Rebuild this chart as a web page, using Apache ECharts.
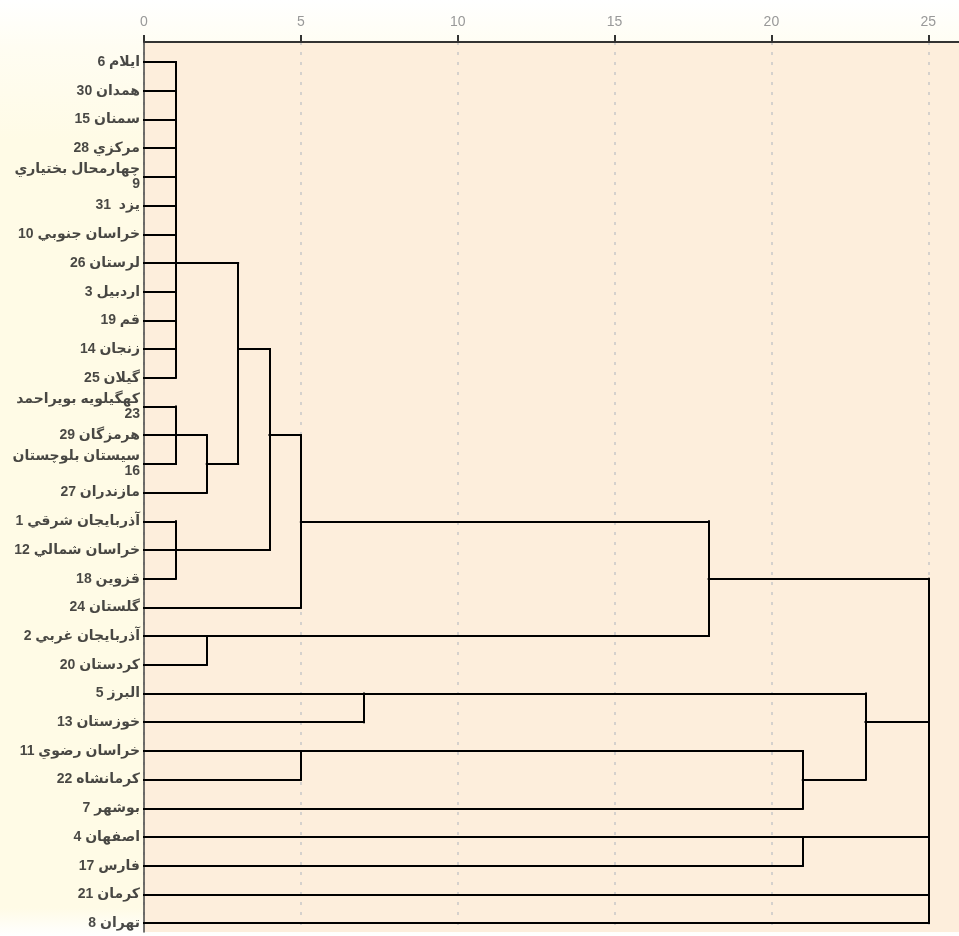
<!DOCTYPE html>
<html><head><meta charset="utf-8">
<script src="https://cdn.jsdelivr.net/npm/echarts@6/dist/echarts.min.js"></script>
<style>html,body{margin:0;padding:0;background:#fff;overflow:hidden}#c{width:1000px;height:936px}</style>
</head><body><div id="c"></div>
<script>
// Leaf labels, top to bottom (row 1..31)
const provinces = ['ايلام 6','همدان 30','سمنان 15','مرکزي 28','چهارمحال بختياري\n9','يزد  31','خراسان جنوبي 10','لرستان 26','اردبيل 3','قم 19','زنجان 14','گيلان 25','کهگيلويه بويراحمد\n23','هرمزگان 29','سيستان بلوچستان\n16','مازندران 27','آذربايجان شرقي 1','خراسان شمالي 12','قزوين 18','گلستان 24','آذربايجان غربي 2','کردستان 20','البرز 5','خوزستان 13','خراسان رضوي 11','کرمانشاه 22','بوشهر 7','اصفهان 4','فارس 17','کرمان 21','تهران 8'];

// Clusters (children are leaf rows (numbers) or cluster ids)
const clusterIds = ['A','B','B16','AB','C','ABC','ABC24','D','E','F','G','G7','FG','H','ROOT'];
const clusterChildren = [
  [1,2,3,4,5,6,7,8,9,10,11,12],
  [13,14,15],
  ['B',16],
  ['A','B16'],
  [17,18,19],
  ['AB','C'],
  ['ABC',20],
  [21,22],
  ['ABC24','D'],
  [23,24],
  [25,26],
  ['G',27],
  ['F','G7'],
  [28,29],
  ['E','FG','H',30,31]
];
// rescaled distance at which each cluster combines
const clusterHeights = [1,1,2,3,1,4,5,2,18,7,5,21,23,21,25];
// row at which each cluster's joining branch leaves
const clusterJoinRows = [8,14,15,11,18,14,17,21,19,23,25,26,24,28,null];

// x axis tick labels
const xTicks = [0,5,10,15,20,25];

function rowOf(c){ return typeof c === 'number' ? c : clusterJoinRows[clusterIds.indexOf(c)]; }
function heightOf(c){ return typeof c === 'number' ? 0 : clusterHeights[clusterIds.indexOf(c)]; }

const segs = [];
clusterChildren.forEach((ch, ci) => {
  const h = clusterHeights[ci];
  const rows = ch.map(rowOf);
  ch.forEach(c => segs.push({coords: [[heightOf(c), rowOf(c)], [h, rowOf(c)]]}));
  segs.push({coords: [[h, Math.min(...rows)], [h, Math.max(...rows)]]});
});

const chart = echarts.init(document.getElementById('c'));
chart.setOption({
  animation: false,
  backgroundColor: {type:'linear', x:0, y:0, x2:0, y2:1, colorStops:[
    {offset:0, color:'#ffffff'}, {offset:0.05, color:'#fffdf2'}, {offset:0.15, color:'#fffbe6'},
    {offset:0.97, color:'#fffbe6'}, {offset:1, color:'#ffffff'}]},
  grid: {left:144, right:9, top:42, bottom:4, show:true, backgroundColor:'#fdeedc', borderWidth:0},
  graphic: [{type:'rect', z:-1, silent:true, shape:{x:931, y:43, width:70, height:889},
    style:{fill:{type:'linear', x:0, y:0, x2:1, y2:0, colorStops:[{offset:0, color:'#fdeedc'},{offset:0.4, color:'#fef2e6'},{offset:1, color:'#fef2e6'}]}}}],
  xAxis: {
    type:'value', position:'top', min:0, max:27, interval:5,
    axisLine:{show:true, lineStyle:{color:'#333', width:2}},
    axisTick:{show:true, length:7, lineStyle:{color:'#333', width:2}},
    axisLabel:{color:'#999', fontSize:14, margin:13, fontFamily:'Arial, Liberation Sans, sans-serif',
      formatter: v => xTicks.indexOf(v) >= 0 ? String(v) : ''},
    splitLine:{show:true, lineStyle:{color:'#c8c8c8', width:1.5, type:[3,7]}}
  },
  yAxis: {
    type:'value', inverse:true, min:0.3, max:31.31,
    axisLine:{show:true, onZero:false, lineStyle:{color:'#444', width:1.5}},
    axisTick:{show:false}, axisLabel:{show:false}, splitLine:{show:false}
  },
  series: [
    {type:'lines', coordinateSystem:'cartesian2d', polyline:false, silent:true, z:3,
     data: segs, lineStyle:{color:'#000', width:2, opacity:1, cap:'square'}},
    {type:'scatter', symbolSize:0, silent:true, z:4,
     data: provinces.map((p,i) => [0, i+1]),
     label:{show:true, position:'left', distance:4, color:'#1a1a1a', fontSize:14, fontWeight:'bold', lineHeight:15,
       fontFamily:'Arial, DejaVu Sans, sans-serif', align:'right',
       formatter: p => provinces[p.dataIndex]}}
  ]
});
</script></body></html>
